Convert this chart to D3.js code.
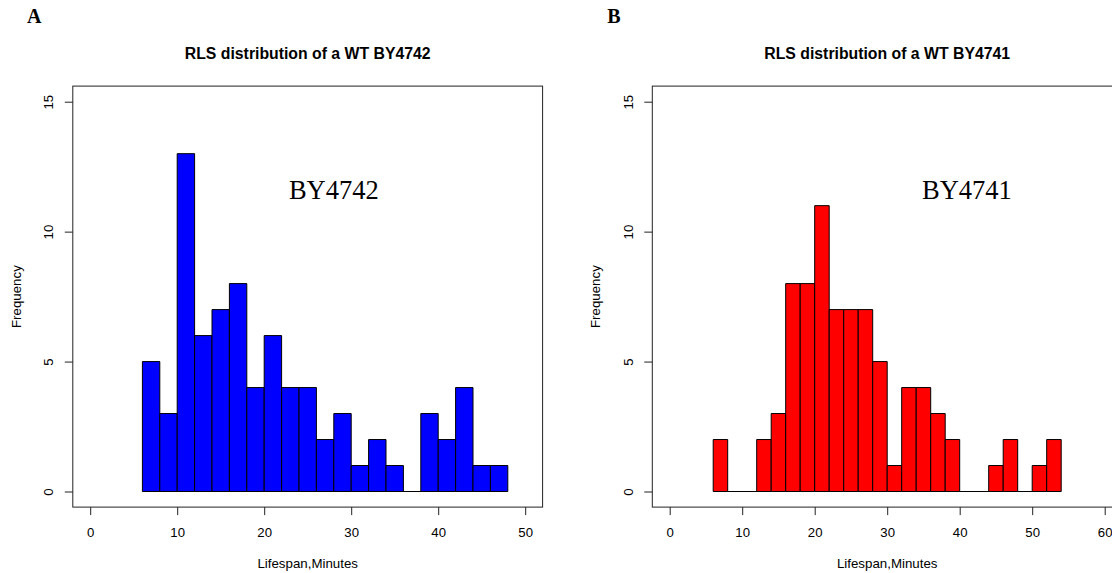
<!DOCTYPE html>
<html>
<head>
<meta charset="utf-8">
<script src="https://cdn.jsdelivr.net/npm/d3@7"></script>
<style>
  html, body { margin: 0; padding: 0; background: #fff; overflow: hidden; }
  svg { display: block; }
  .tick text { font-family: "Liberation Sans", Arial, sans-serif; font-size: 13.2px; fill: #000; }
</style>
</head>
<body>
<svg id="chart" width="1112" height="573"></svg>
<script>
// Replicative lifespan histograms, 2-minute bins
const binWidth = 2;

const by4742Start = 6;
const by4742Counts = [5, 3, 13, 6, 7, 8, 4, 6, 4, 4, 2, 3, 1, 2, 1, 0, 3, 2, 4, 1, 1];

const by4741Start = 6;
const by4741Counts = [2, 0, 0, 2, 3, 8, 8, 11, 7, 7, 7, 5, 1, 4, 4, 3, 2, 0, 0, 1, 2, 0, 1, 2];

const yTicks = [0, 5, 10, 15];
const by4742XTicks = [0, 10, 20, 30, 40, 50];
const by4741XTicks = [0, 10, 20, 30, 40, 50, 60];

const panels = [
  {
    letter: "A",
    title: "RLS distribution of a WT BY4742",
    strain: "BY4742",
    strainX: 28, strainY: 11.6,
    start: by4742Start, counts: by4742Counts,
    xlim: [0, 50], xTicks: by4742XTicks,
    fill: "#0000ff", offset: 0
  },
  {
    letter: "B",
    title: "RLS distribution of a WT BY4741",
    strain: "BY4741",
    strainX: 41, strainY: 11.6,
    start: by4741Start, counts: by4741Counts,
    xlim: [0, 60], xTicks: by4741XTicks,
    fill: "#ff0000", offset: 579.5
  }
];

const ylim = [0, 15];
const svg = d3.select("#chart");

// plot box in pixels (relative to each panel's offset)
const box = { left: 72.8, right: 542.6, top: 86.1, bottom: 507.1 };

// R-style axis extension: 4% of the range on each side
function extend(lim) {
  const pad = (lim[1] - lim[0]) * 0.04;
  return [lim[0] - pad, lim[1] + pad];
}

const sans = "'Liberation Sans', Arial, Helvetica, sans-serif";
const serif = "'Liberation Serif', 'Times New Roman', Times, serif";

panels.forEach(p => {
  const g = svg.append("g").attr("transform", `translate(${p.offset},0)`);

  const x = d3.scaleLinear().domain(extend(p.xlim)).range([box.left, box.right]);
  const y = d3.scaleLinear().domain(extend(ylim)).range([box.bottom, box.top]);

  const bins = p.counts.map((c, i) => ({
    x0: p.start + i * binWidth,
    x1: p.start + (i + 1) * binWidth,
    count: c
  }));

  // bars (empty bins collapse to a line on the baseline)
  g.append("g").selectAll("path")
    .data(bins)
    .join("path")
    .attr("d", d => {
      const x0 = x(d.x0), x1 = x(d.x1), y0 = y(0), y1 = y(d.count);
      return `M${x0},${y0}L${x0},${y1}L${x1},${y1}L${x1},${y0}Z`;
    })
    .attr("fill", p.fill)
    .attr("stroke", "#000")
    .attr("stroke-width", 1);

  // plot frame
  g.append("rect")
    .attr("x", box.left).attr("y", box.top)
    .attr("width", box.right - box.left).attr("height", box.bottom - box.top)
    .attr("fill", "none").attr("stroke", "#222").attr("stroke-width", 1);

  // x axis
  const xAxis = g.append("g")
    .attr("transform", `translate(0,${box.bottom})`)
    .call(d3.axisBottom(x).tickValues(p.xTicks).tickSize(8).tickSizeOuter(0).tickFormat(d3.format("d")));
  xAxis.select(".domain").remove();
  xAxis.selectAll(".tick line").attr("stroke", "#222");
  xAxis.selectAll(".tick text").attr("y", 30).attr("dy", 0);

  // y axis with labels rotated parallel to the axis
  const yAxis = g.append("g")
    .attr("transform", `translate(${box.left},0)`)
    .call(d3.axisLeft(y).tickValues(yTicks).tickSize(8).tickSizeOuter(0).tickFormat(d3.format("d")));
  yAxis.select(".domain").remove();
  yAxis.selectAll(".tick line").attr("stroke", "#222");
  yAxis.selectAll(".tick text")
    .attr("transform", "rotate(-90)")
    .attr("x", 0).attr("y", -19.5).attr("dy", 0)
    .attr("text-anchor", "middle");

  // title
  g.append("text")
    .attr("x", (box.left + box.right) / 2).attr("y", 59)
    .attr("text-anchor", "middle")
    .attr("font-family", sans).attr("font-weight", "bold").attr("font-size", 15.8)
    .text(p.title);

  // axis titles
  g.append("text")
    .attr("x", (box.left + box.right) / 2).attr("y", 568)
    .attr("text-anchor", "middle")
    .attr("font-family", sans).attr("font-size", 13.3)
    .text("Lifespan,Minutes");

  g.append("text")
    .attr("transform", `translate(20.7,${(box.top + box.bottom) / 2}) rotate(-90)`)
    .attr("text-anchor", "middle")
    .attr("font-family", sans).attr("font-size", 13.3)
    .text("Frequency");

  // strain annotation inside the plot
  g.append("text")
    .attr("x", x(p.strainX)).attr("y", y(p.strainY))
    .attr("text-anchor", "middle").attr("dominant-baseline", "central")
    .attr("font-family", serif).attr("font-size", 26.5)
    .text(p.strain);

  // panel letter
  g.append("text")
    .attr("x", 34.3).attr("y", 23.3)
    .attr("text-anchor", "middle")
    .attr("font-family", serif).attr("font-weight", "bold").attr("font-size", 20)
    .text(p.letter);
});
</script>
</body>
</html>
